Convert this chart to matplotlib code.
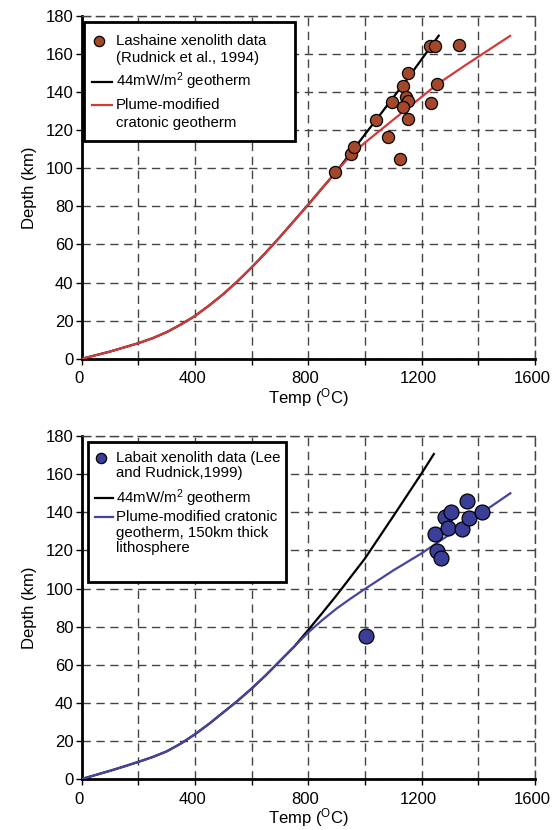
import numpy as np
import matplotlib.pyplot as plt
from matplotlib.patches import Rectangle
from matplotlib.lines import Line2D
from matplotlib.ticker import MultipleLocator
from matplotlib.transforms import ScaledTranslation

plt.rcParams['font.family'] = ['Liberation Sans', 'DejaVu Sans']
plt.rcParams['mathtext.fontset'] = 'custom'
plt.rcParams['mathtext.rm'] = 'Liberation Sans'
plt.rcParams['mathtext.it'] = 'Liberation Sans'

# Lashaine xenoliths (Rudnick et al., 1994)
temp_lash = [894, 951, 961, 1039, 1081, 1125, 1094, 1133, 1152, 1145, 1152, 1134, 1151, 1233, 1254, 1231, 1248, 1333]
depth_lash = [98, 107.5, 111, 125.5, 116.5, 105, 135, 143, 150, 137.5, 135.5, 132, 126, 134.5, 144, 164, 164, 164.5]

# top panel geotherms
top_base_t = [0, 100, 150, 200, 250, 300, 350, 400, 450, 500, 550, 600, 650, 700, 750, 800, 850, 900]
top_base_d = [0, 3.8, 6, 8.2, 10.8, 14, 18, 22.5, 28, 34, 40.7, 48, 55.8, 64, 72.5, 81, 89.8, 98.5]
top_black_t = top_base_t + [1050, 1150, 1260]
top_black_d = top_base_d + [127.5, 147, 169.6]
top_red_t = top_base_t + [951, 1000, 1100, 1200, 1254, 1350, 1512]
top_red_d = top_base_d + [107, 113.5, 125.5, 137.5, 144, 153.7, 169.5]

# Labait xenoliths (Lee and Rudnick, 1999)
temp_lab = [1005, 1248, 1254, 1267, 1283, 1294, 1304, 1342, 1360, 1367, 1412]
depth_lab = [75, 128.5, 119.5, 116, 137.5, 131.5, 140, 131, 146, 137, 140]

# bottom panel geotherms
bot_base_t = [0, 100, 150, 200, 250, 300, 350, 400, 450, 500, 550, 600, 650, 700, 750]
bot_base_d = [0, 4.3, 6.6, 9, 11.5, 14.5, 18.6, 23.5, 29, 35, 41, 47.5, 54.5, 62, 69.5]
bot_black_t = bot_base_t + [800, 850, 900, 1000, 1100, 1200, 1243]
bot_black_d = bot_base_d + [78.3, 87.3, 96.5, 115.8, 138, 160.5, 170.6]
bot_blue_t = bot_base_t + [800, 850, 900, 950, 1000, 1100, 1200, 1300, 1400, 1513]
bot_blue_d = bot_base_d + [77, 83.5, 89.5, 94.8, 99.8, 109.5, 118.5, 128.5, 138.5, 150]

top_labels = ['Lashaine xenolith data\n(Rudnick et al., 1994)', '44mW/m$^2$ geotherm',
              'Plume-modified\ncratonic geotherm']
bot_labels = ['Labait xenolith data (Lee\nand Rudnick,1999)', '44mW/m$^2$ geotherm',
              'Plume-modified cratonic\ngeotherm, 150km thick\nlithosphere']

brown = '#a4482b'
red = '#d23a3a'
navy = '#3b3e98'
blue = '#4545a0'

W, H = 559, 830
fig = plt.figure(figsize=(W / 100, H / 100), dpi=100)
ax1 = fig.add_axes([81.7 / W, 471.2 / H, 453.3 / W, 342.9 / H])
ax2 = fig.add_axes([81.7 / W, 51 / H, 453.3 / W, 342.9 / H])

grid_col = '#444444'
dash = (0, (6, 4))


def style(ax):
    ax.set_xlim(0, 1600)
    ax.set_ylim(0, 180)
    ax.xaxis.set_major_locator(MultipleLocator(400))
    ax.xaxis.set_minor_locator(MultipleLocator(200))
    ax.yaxis.set_major_locator(MultipleLocator(20))
    ax.set_axisbelow(True)
    ax.grid(True, which='both', color=grid_col, linestyle=dash, linewidth=1)
    for s in ['left', 'bottom']:
        ax.spines[s].set_linewidth(2)
        ax.spines[s].set_color('black')
    for s in ['top', 'right']:
        ax.spines[s].set_linestyle(dash)
        ax.spines[s].set_linewidth(1)
        ax.spines[s].set_color(grid_col)
    ax.tick_params(which='both', direction='out', length=4, width=1, labelsize=12, pad=2)
    ax.tick_params(axis='x', pad=5)
    shift = ScaledTranslation(-3 / 100, 0, fig.dpi_scale_trans)
    for lab in ax.get_xticklabels():
        lab.set_transform(lab.get_transform() + shift)
    ax.set_xlabel('Temp ($^{\\mathrm{O}}$C)', fontsize=12, labelpad=0)
    ax.set_ylabel('Depth (km)', fontsize=12, labelpad=6)


style(ax1)
style(ax2)

ax1.plot(top_black_t, top_black_d, color='black', lw=1.6, zorder=3)
ax1.plot(top_red_t, top_red_d, color=red, lw=1.6, zorder=4)
ax1.scatter(temp_lash, depth_lash, s=76, color=brown, edgecolor='black', linewidth=0.9, zorder=5)

ax2.plot(bot_black_t, bot_black_d, color='black', lw=1.6, zorder=3)
ax2.plot(bot_blue_t, bot_blue_d, color=blue, lw=1.6, zorder=4)
ax2.scatter(temp_lab, depth_lab, s=115, color=navy, edgecolor='black', linewidth=0.9, zorder=5)


def px(x, y):
    return x / W, 1 - y / H


def legend_box(box, labels, styles, starts, step, tx, hx):
    # hand-made legend so each handle sits on the first line of its label
    x0, y0, x1, y1 = box
    fig.add_artist(Rectangle(px(x0, y1), (x1 - x0) / W, (y1 - y0) / H, transform=fig.transFigure,
                             facecolor='white', edgecolor='black', linewidth=2, zorder=6))
    for lab, st, ys in zip(labels, styles, starts):
        hx0, hx1 = hx
        if st[0] == 'o':
            mx, my = px((hx0 + hx1) / 2 - 3, ys)
            fig.add_artist(Line2D([mx], [my], transform=fig.transFigure, marker='o', ms=7.4,
                                  mfc=st[1], mec='black', mew=0.9, ls='none', zorder=7))
        else:
            (ax_, ay_), (bx_, by_) = px(hx0, ys), px(hx1, ys)
            fig.add_artist(Line2D([ax_, bx_], [ay_, by_], transform=fig.transFigure,
                                  color=st[1], lw=1.6, zorder=7))
        for i, line in enumerate(lab.split('\n')):
            fig.text(*px(tx, ys + i * step), line, fontsize=10.8, va='center', ha='left', zorder=8)


legend_box((84, 22, 295, 141), top_labels, [('o', brown), ('-', 'black'), ('-', red)],
           [40.7, 81.7, 105], 17.5, 116, (92, 112))
legend_box((88, 442, 286, 582), bot_labels, [('o', navy), ('-', 'black'), ('-', blue)],
           [458, 498.3, 517.3], 15.2, 115.7, (95, 113))

fig.savefig('out.png', dpi=100)
